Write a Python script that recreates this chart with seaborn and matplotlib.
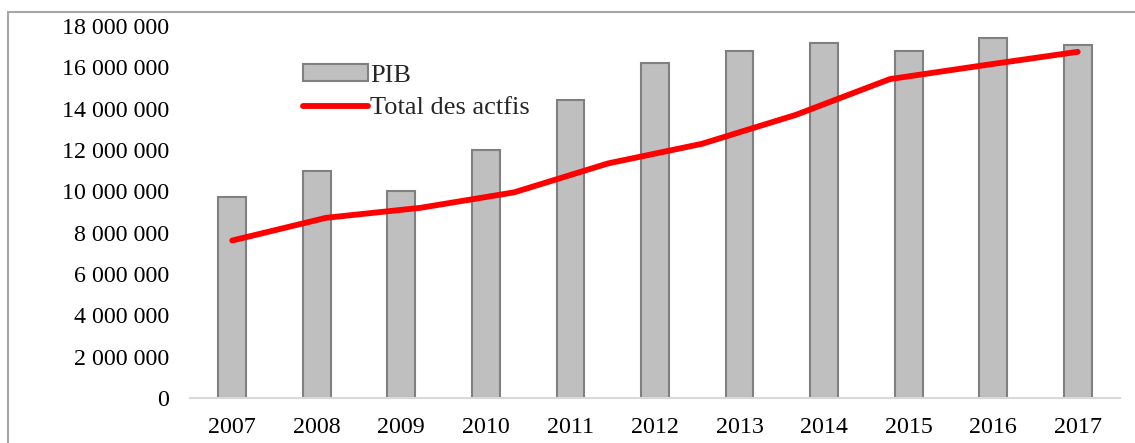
import numpy as np
import pandas as pd
import matplotlib
matplotlib.use("Agg")
import matplotlib.pyplot as plt
import seaborn as sns
from matplotlib.patches import Rectangle
from matplotlib.ticker import FuncFormatter

# data
years = ["2007", "2008", "2009", "2010", "2011", "2012", "2013", "2014", "2015", "2016", "2017"]
pib = [9.72e6, 11.0e6, 10.0e6, 12.0e6, 14.4e6, 16.2e6, 16.8e6, 17.2e6, 16.8e6, 17.4e6, 17.1e6]
# the red line has 10 points spread evenly over the 11 year slots
actifs = [7.62e6, 8.72e6, 9.2e6, 9.95e6, 11.35e6, 12.3e6, 13.7e6, 15.43e6, 16.1e6, 16.75e6]
yticks = np.arange(0, 18e6 + 1, 2e6)

sns.set_theme(style="white")
plt.rcParams["font.family"] = ["Liberation Serif", "DejaVu Serif"]

fig = plt.figure(figsize=(11.35, 4.43), dpi=100)
ax = fig.add_axes([190 / 1135, 45 / 443, 930 / 1135, 372 / 443])

df = pd.DataFrame({"year": years, "PIB": pib})
sns.barplot(data=df, x="year", y="PIB", ax=ax, color="#bfbfbf", width=0.33,
            edgecolor="#808080", linewidth=1.5, saturation=1, label="PIB")

line_x = np.linspace(0, len(years) - 1, len(actifs))
sns.lineplot(x=line_x, y=actifs, ax=ax, color="#ff0000", linewidth=4.2,
             label="Total des actfis", solid_capstyle="round", solid_joinstyle="round")

ax.set_xlim(-0.5, len(years) - 0.5)
ax.set_ylim(0, 18e6)
ax.set_yticks(yticks)
ax.yaxis.set_major_formatter(FuncFormatter(lambda v, p: f"{v:,.0f}".replace(",", " ")))
ax.set_xlabel("")
ax.set_ylabel("")
ax.tick_params(axis="both", length=0, labelsize=17.3, colors="black")
ax.tick_params(axis="y", pad=15)
ax.tick_params(axis="x", pad=14)
for s in ["top", "right", "left"]:
    ax.spines[s].set_visible(False)
ax.spines["bottom"].set_color("#d9d9d9")
ax.spines["bottom"].set_linewidth(1.5)
ax.grid(False)

handles, labels = ax.get_legend_handles_labels()
order = [labels.index("PIB"), labels.index("Total des actfis")]
ax.legend([handles[i] for i in order], [labels[i] for i in order],
          loc="upper left", bbox_to_anchor=(303 / 1135, 1 - 64 / 443),
          bbox_transform=fig.transFigure, frameon=False, fontsize=19,
          handlelength=2.45, handleheight=0.6, handletextpad=0.1,
          labelspacing=0.38, borderpad=0, borderaxespad=0)

# outer chart border (cropped on the right and bottom)
fig.patches.append(Rectangle((8 / 1135, -0.1), 1.2, 1 - 12 / 443 + 0.1,
                             transform=fig.transFigure, fill=False,
                             edgecolor="#a6a6a6", linewidth=1.5))

fig.savefig("out.png", dpi=100)
